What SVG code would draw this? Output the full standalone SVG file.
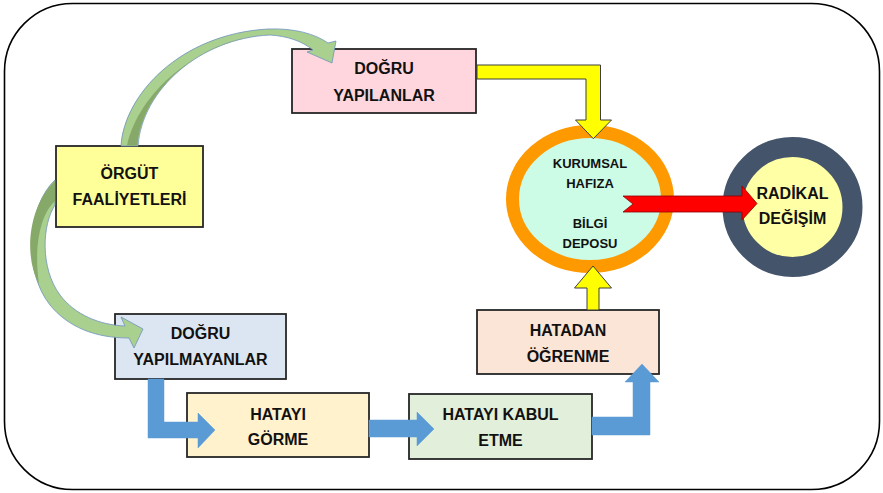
<svg xmlns="http://www.w3.org/2000/svg" width="883" height="493" viewBox="0 0 883 493">
  <style>
    .box { stroke: #262626; stroke-width: 1.8; }
    .lbl { font-family: "Liberation Sans", Arial, sans-serif; font-weight: bold; font-size: 16px; fill: #111; text-anchor: middle; }
    .small { font-size: 13px; }
    .yellow { fill: #FFFF00; stroke: #3f3f3f; stroke-width: 1; stroke-linejoin: miter; }
    .blue { fill: #5B9BD5; stroke: #5B9BD5; stroke-width: 0.5; }
    .green { fill: #A9D08E; stroke: #6F93BF; stroke-width: 0.8; stroke-linejoin: round; }
    .shade { fill: #86A96A; }
  </style>

  <!-- outer frame -->
  <rect x="4.5" y="3.5" width="875" height="486" rx="68" ry="68" fill="#fff" stroke="#000" stroke-width="1.6"/>

  <g id="orgut-faaliyetleri">
    <rect class="box" x="56" y="146" width="147" height="81" fill="#FFFF99"/>
    <text class="lbl" x="129.5" y="179">ÖRGÜT</text>
    <text class="lbl" x="129.5" y="205">FAALİYETLERİ</text>
  </g>

  <g id="dogru-yapilanlar">
    <rect class="box" x="292" y="49" width="184" height="64" fill="#FFD6DD"/>
    <text class="lbl" x="384" y="74">DOĞRU</text>
    <text class="lbl" x="384" y="101">YAPILANLAR</text>
  </g>

  <g id="dogru-yapilmayanlar">
    <rect class="box" x="115" y="314" width="171" height="65" fill="#DCE6F2"/>
    <text class="lbl" x="200.5" y="339">DOĞRU</text>
    <text class="lbl" x="200.5" y="365">YAPILMAYANLAR</text>
  </g>

  <g id="hatayi-gorme">
    <rect class="box" x="187" y="393" width="182" height="64" fill="#FFF2CC"/>
    <text class="lbl" x="278" y="420">HATAYI</text>
    <text class="lbl" x="278" y="445">GÖRME</text>
  </g>

  <g id="hatayi-kabul-etme">
    <rect class="box" x="409" y="394" width="183" height="65" fill="#E2EFDA"/>
    <text class="lbl" x="500.5" y="420">HATAYI KABUL</text>
    <text class="lbl" x="500.5" y="446">ETME</text>
  </g>

  <g id="hatadan-ogrenme">
    <rect class="box" x="477" y="310" width="182" height="64" fill="#FBE5D6"/>
    <text class="lbl" x="568" y="336">HATADAN</text>
    <text class="lbl" x="568" y="362">ÖĞRENME</text>
  </g>

  <g id="kurumsal-hafiza">
    <ellipse cx="590" cy="199" rx="77.5" ry="67.5" fill="#CCFBE6" stroke="#FF9900" stroke-width="13"/>
    <text class="lbl small" x="590" y="168">KURUMSAL</text>
    <text class="lbl small" x="590" y="188">HAFIZA</text>
    <text class="lbl small" x="590" y="228">BİLGİ</text>
    <text class="lbl small" x="590" y="248">DEPOSU</text>
  </g>

  <g id="radikal-degisim">
    <circle cx="792.5" cy="207" r="60" fill="#FFFFA6" stroke="#44546A" stroke-width="20"/>
    <text class="lbl" x="792.5" y="199">RADİKAL</text>
    <text class="lbl" x="792.5" y="224">DEĞİŞİM</text>
  </g>

  <g id="connectors">
    <!-- curved arrow: activities to done-right -->
    <path class="green" d="M121,146 C124,95 180,34 268,29 C295,28 315,34 328,43 L336,41 L332,63 L307,52 L313,50 C302,41 287,36 270,35 C200,38 142,90 138,146 Z"/>
    <path class="shade" d="M137.5,145.5 C142,90 200,38 268,35.5 C205,38 140,88 127,145.5 Z"/>

    <!-- curved arrow: activities to done-wrong -->
    <path class="green" d="M55,180 C28,205 22,270 50,305 C68,327 95,338 129,338 L134,348 L143,329 L121,317 L125,326 C100,325 75,315 60,295 C40,268 42,225 55,205 Z"/>
    <path class="shade" d="M55,181 C29,205 23,255 39,284 C34,250 39,216 55,201 Z"/>

    <!-- yellow arrows into the memory -->
    <path class="yellow" d="M477,65 L600.5,65 L600.5,120 L611.5,120 L593.3,138.7 L575.5,120 L586,120 L586,79 L477,79 Z"/>
    <path class="yellow" d="M587,310 L587,288 L574.5,288 L593,266 L611.5,288 L599,288 L599,310 Z"/>

    <!-- red arrow to radical change -->
    <path d="M623,196 L742,196 L742,186 L757,203.5 L742,220 L742,212 L623,212 L633,204 Z" fill="#FF0000" stroke="#8B0000" stroke-width="0.8"/>

    <!-- blue flow arrows along the bottom -->
    <path class="blue" d="M148,379 L164,379 L164,422 L198,422 L198,413 L215,430 L198,448 L198,438 L148,438 Z"/>
    <path class="blue" d="M369,420 L417,420 L417,412 L434,429 L417,446 L417,437 L369,437 Z"/>
    <path class="blue" d="M592,417 L633,417 L633,382 L625,382 L642,364 L659,382 L650,382 L650,435 L592,435 Z"/>
  </g>
</svg>
